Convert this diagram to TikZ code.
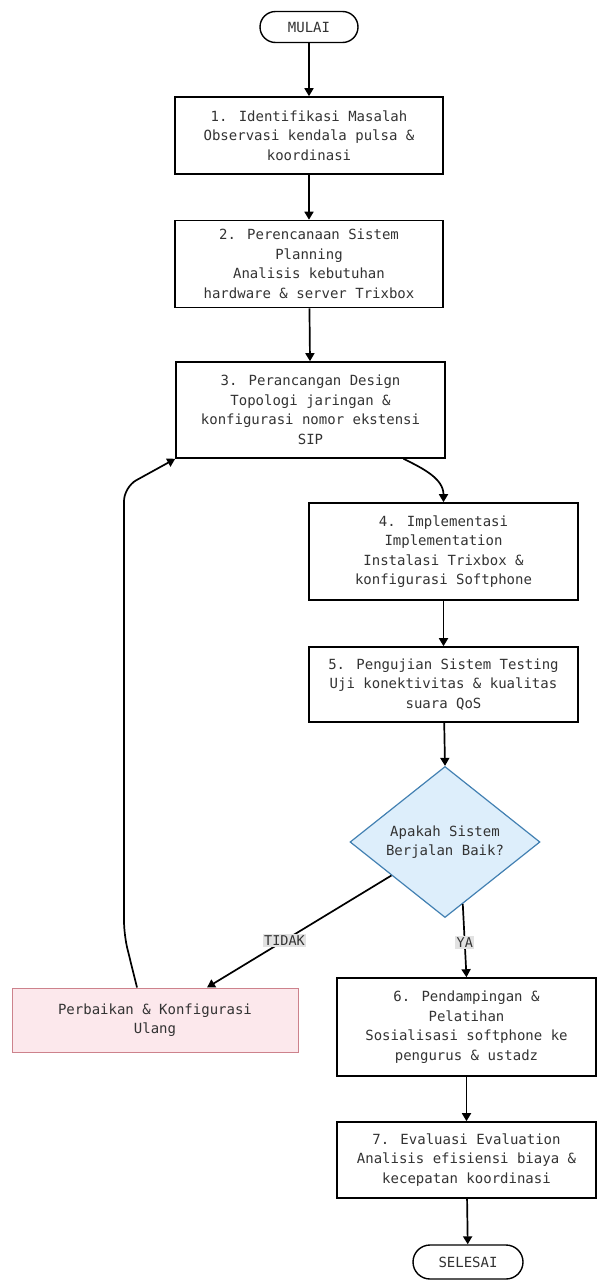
\documentclass[tikz,border=0pt]{standalone}
\usepackage{fontspec}
\usepackage{tikz}
\usetikzlibrary{shapes.geometric, shapes.misc, arrows.meta}
\newfontfamily\flowfont{DejaVu Sans Mono}
\definecolor{txtgray}{RGB}{51,51,51}
\definecolor{decfill}{RGB}{221,238,251}
\definecolor{decline}{RGB}{66,128,178}
\definecolor{fixfill}{RGB}{252,232,236}
\definecolor{fixline}{RGB}{205,130,140}
\definecolor{lblfill}{RGB}{226,226,226}
\tikzset{
    stepbox/.style={draw, line width=1.6pt, fill=white, text=txtgray,
        align=center, inner sep=0pt, minimum width=268pt,
        font=\flowfont\fontsize{14}{19.5}\selectfont},
    term/.style={rounded rectangle, draw, line width=1.4pt, fill=white,
        text=txtgray, inner sep=0pt, minimum height=31pt,
        font=\flowfont\fontsize{14}{19.5}\selectfont},
    flow/.style={-{Triangle[length=8pt,width=9pt]}, line width=1.7pt},
    lbl/.style={fill=lblfill, text=txtgray, inner sep=1.5pt,
        font=\flowfont\fontsize{13.5}{15}\selectfont}
}
\begin{document}
\begin{tikzpicture}[x=1pt, y=-1pt]
\useasboundingbox (0,0) rectangle (597,1280);

%start
\node[term, minimum width=98pt] (mulai) at (309,27) {MULAI};

%1
\node[stepbox, minimum height=77pt] (ident) at (309,135.5)
    {1. Identifikasi Masalah\\Observasi kendala pulsa \&\\koordinasi};
%2
\node[stepbox, minimum height=87pt] (plan) at (309,264)
    {2. Perencanaan Sistem\\Planning\\Analisis kebutuhan\\hardware \& server Trixbox};
%3
\node[stepbox, minimum width=269pt, minimum height=96pt] (design) at (310.5,410)
    {3. Perancangan Design\\Topologi jaringan \&\\konfigurasi nomor ekstensi\\SIP};
%4
\node[stepbox, minimum width=269pt, minimum height=97pt] (impl) at (443.5,551.5)
    {4. Implementasi\\Implementation\\Instalasi Trixbox \&\\konfigurasi Softphone};
%5
\node[stepbox, minimum width=269pt, minimum height=75pt] (test) at (443.5,684.5)
    {5. Pengujian Sistem Testing\\Uji konektivitas \& kualitas\\suara QoS};

%decision
\node[diamond, draw=decline, line width=1.2pt, fill=decfill, text=txtgray,
    align=center, inner sep=0pt, minimum width=190pt, minimum height=148pt,
    font=\flowfont\fontsize{14}{19.5}\selectfont] (cek) at (445,842)
    {Apakah Sistem\\Berjalan Baik?};

%fix
\node[stepbox, draw=fixline, line width=1pt, fill=fixfill,
    minimum width=286pt, minimum height=64pt] (ulang) at (155,1020)
    {Perbaikan \& Konfigurasi\\Ulang};

%6
\node[stepbox, minimum width=259pt, minimum height=98pt] (latih) at (466.5,1027)
    {6. Pendampingan \&\\Pelatihan\\Sosialisasi softphone ke\\pengurus \& ustadz};
%7
\node[stepbox, minimum width=259pt, minimum height=76pt] (eval) at (466.5,1160)
    {7. Evaluasi Evaluation\\Analisis efisiensi biaya \&\\kecepatan koordinasi};

%end
\node[term, minimum width=110pt, minimum height=34pt] (selesai) at (468,1262) {SELESAI};

%arrows
\draw[flow] (mulai) -- (ident);
\draw[flow] (ident) -- (plan);
\draw[flow] (plan) -- (design);
\draw[flow] ([xshift=93pt]design.south) to[out=-26,in=90] (impl.north);
\draw[flow] (impl) -- (test);
\draw[flow] (test) -- (cek.north);
\draw[flow] (cek.-74) -- node[lbl, pos=0.53]{YA} (latih.north);
\draw[flow] (cek.212) -- node[lbl, pos=0.58]{TIDAK} ([xshift=52pt]ulang.north);
\draw[flow] (latih) -- (eval);
\draw[flow] (eval) -- (selesai);

%loop back
\draw[flow, rounded corners=14pt] ([xshift=-18pt]ulang.north) -- (124,935)
    -- (124,487) -- (design.south west);

\end{tikzpicture}
\end{document}
